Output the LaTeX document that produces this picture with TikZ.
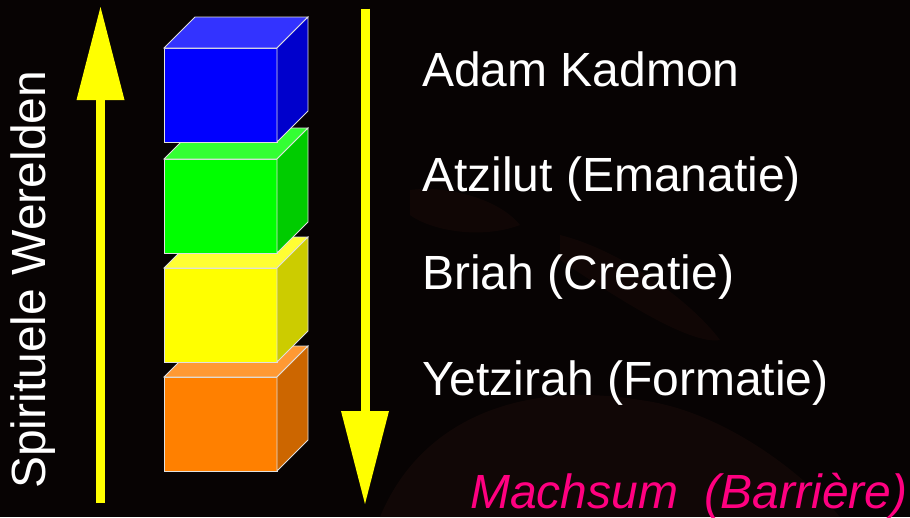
\documentclass[tikz,border=0pt]{standalone}
\usepackage{fontspec}
\setmainfont{Liberation Sans}
\usetikzlibrary{arrows.meta}

\definecolor{achter}{RGB}{7,3,3}
\definecolor{nerf}{RGB}{38,16,12}
\definecolor{pijl}{RGB}{255,255,0}
\definecolor{grens}{RGB}{255,0,128}
\definecolor{blauwV}{RGB}{0,0,255}
\definecolor{blauwB}{RGB}{51,51,255}
\definecolor{blauwZ}{RGB}{0,0,204}
\definecolor{groenV}{RGB}{0,255,0}
\definecolor{groenB}{RGB}{51,255,51}
\definecolor{groenZ}{RGB}{0,204,0}
\definecolor{geelV}{RGB}{255,255,0}
\definecolor{geelB}{RGB}{255,255,51}
\definecolor{geelZ}{RGB}{204,204,0}
\definecolor{oranjeV}{RGB}{255,128,0}
\definecolor{oranjeB}{RGB}{255,153,51}
\definecolor{oranjeZ}{RGB}{204,102,0}

\begin{document}
\begin{tikzpicture}[x=1pt,y=-1pt,
wereld/.style={font=\fontsize{48}{58}\selectfont,text=white,anchor=base west,inner sep=0pt},
vlak/.style={draw=white!88!black,line width=0.8pt,line join=miter},
pijlstok/.style={draw=pijl,line width=9pt,
  -{Triangle[width=48pt,length=93pt,line width=0pt]}}
]
\useasboundingbox (0,0) rectangle (910,517);
\fill[achter] (0,0) rectangle (910,517);
% houtnerf op de achtergrond
\fill[nerf,opacity=.35] (380,517) .. controls (420,420) and (520,380) .. (640,400)
  .. controls (720,410) and (800,470) .. (840,517) -- cycle;
\fill[nerf,opacity=.3] (560,235) .. controls (620,250) and (690,300) .. (720,340)
  .. controls (690,345) and (620,300) .. (560,260) -- cycle;
\fill[nerf,opacity=.3] (410,190) .. controls (450,185) and (500,200) .. (520,225)
  .. controls (480,240) and (430,230) .. (410,215) -- cycle;

% de vier werelden, van onder naar boven
\foreach \ytop/\kleur in {377/oranje,268/geel,159/groen,48/blauw}{
  \path[vlak,fill=\kleur V] (164,\ytop) rectangle (277,{\ytop+94});
  \path[vlak,fill=\kleur B] (164,\ytop) -- (195,{\ytop-31}) -- (308,{\ytop-31})
    -- (277,\ytop) -- cycle;
  \path[vlak,fill=\kleur Z] (277,\ytop) -- (308,{\ytop-31}) -- (308,{\ytop+63})
    -- (277,{\ytop+94}) -- cycle;
}

% pijlen
\coordinate (opvoet) at (100.5,503);
\coordinate (optop) at (100.5,7);
\draw[pijlstok] (opvoet) -- (optop);
\coordinate (neertop) at (365,8.7);
\coordinate (neervoet) at (365,504);
\draw[pijlstok] (neertop) -- (neervoet);

% teksten
\node[wereld,rotate=90] (spiritueel) at (45,489) {Spirituele Werelden};
\node[wereld] (adam) at (422,86) {Adam Kadmon};
\node[wereld] (atzilut) at (422,191) {Atzilut (Emanatie)};
\node[wereld] (briah) at (422,289) {Briah (Creatie)};
\node[wereld] (yetzirah) at (422,395) {Yetzirah (Formatie)};
\node[wereld,text=grens,font=\fontsize{48}{58}\selectfont\itshape] (machsum)
  at (470,508) {Machsum\ \ (Barrière)};
\end{tikzpicture}
\end{document}
